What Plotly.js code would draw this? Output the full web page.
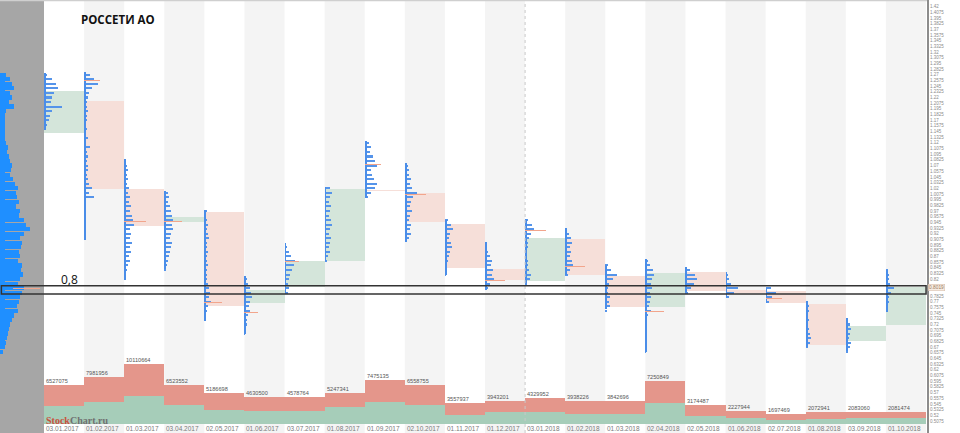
<!DOCTYPE html>
<html>
<head>
<meta charset="utf-8">
<script src="https://cdn.plot.ly/plotly-3.0.1.min.js"></script>
<style>
html,body{margin:0;padding:0;background:#fff;}
#chart{width:960px;height:433px;}
</style>
</head>
<body>
<div id="chart"></div>
<script>
// ---------- DATA ----------
const months = ['03.01.2017','01.02.2017','01.03.2017','03.04.2017','02.05.2017','01.06.2017','03.07.2017','01.08.2017','01.09.2017','02.10.2017','01.11.2017','01.12.2017','03.01.2018','01.02.2018','01.03.2018','02.04.2018','02.05.2018','01.06.2018','02.07.2018','01.08.2018','03.09.2018','01.10.2018'];
const opens  = [1.1424,1.2122,1.0184,0.9450,0.9684,0.7666,0.8026,0.8605,1.0170,1.0090,0.9407,0.8422,0.8164,0.9076,0.8268,0.7578,0.8350,0.7959,0.7944,0.7651,0.6836,0.7188];
const closes = [1.2343,1.0177,0.9376,0.9574,0.7614,0.7960,0.8598,1.0177,1.0145,0.9450,0.8438,0.8180,0.9110,0.8283,0.7578,0.8327,0.7944,0.7887,0.7666,0.6748,0.7166,0.8019];
const volumes = [6527075,7981956,10110664,6523552,5186698,4630500,4578764,5247341,7475135,6558755,3557937,3943201,4329952,3938226,3842696,7250849,3174487,2227944,1697469,2072941,2083060,2081474];
const volumesPart = [3080000,3660000,4770000,3250000,2310000,2190000,2240000,2810000,3660000,3150000,1570000,1970000,2070000,1690000,1690000,3540000,1400000,1060000,670000,900000,1060000,1010000];

// monthly volume profiles: price of the first (highest) bin, then widths (px) every 0.01 downward
const profileTops = [1.27,1.27,1.08,1.01,0.97,0.82,0.89,1.02,1.12,1.07,0.95,0.90,0.95,0.93,0.85,0.86,0.84,0.83,0.80,0.77,0.73,0.84];
const profileHighs = [1.2739,1.2755,1.0838,1.0147,0.9720,0.8270,0.8990,1.0220,1.1248,1.0750,0.9500,0.9024,0.9516,0.9320,0.8510,0.8636,0.8470,0.8360,0.8000,0.7724,0.7336,0.8400];
const profileLows  = [1.1484,0.9060,0.8180,0.8415,0.7270,0.6980,0.7890,0.8600,0.9980,0.9024,0.8290,0.7960,0.8107,0.8280,0.7534,0.6600,0.7922,0.7800,0.7670,0.6697,0.6622,0.7480];
const pJan17 = [3,8,12,14,10,8,7,18,8,6,5,3,2];
const pFeb17 = [6,10,14,8,5,4,3,3,4,3,3,2,3,2,4,2,6,3,4,3,4,4,3,4,5,8,5,10,2,2,1,2,1,1,2,1,1];
const pMar17 = [2,3,4,3,4,3,5,4,6,5,7,6,8,9,10,6,7,6,8,6,7,5,6,4,3,2,1];
const pApr17 = [4,5,4,6,7,8,9,8,9,7,6,8,7,6,5,4,3,2];
const pMay17 = [3,2,3,4,3,4,5,3,3,4,3,3,4,3,3,3,4,5,6,5,7,4,3,2,1];
const pJun17 = [3,4,6,7,8,6,5,6,4,3,3,2,1];
const pJul17 = [2,4,6,10,9,7,5,4,3,4,3];
const pAug17 = [5,7,5,4,6,5,4,6,7,5,4,6,5,4,5,3,2];
const pSep17 = [4,6,5,8,10,12,6,7,9,12,10,6,3];
const pOct17 = [3,4,4,6,5,7,12,8,6,5,7,5,4,6,5,6,4];
const pNov17 = [3,6,8,5,4,6,7,5,4,3,2,2,1];
const pDec17 = [2,2,3,5,7,6,8,7,9,5,3];
const pJan18 = [3,7,9,6,4,3,3,2,2,3,3,4,6,5,2];
const pFeb18 = [2,4,6,7,5,6,5,7,8,5,3];
const pMar18 = [3,6,12,8,4,3,3,5,4,5,2];
const pApr18 = [3,5,8,9,7,6,7,5,6,5,4,6,3,2,1,1,1,1,0,1,1];
const pMay18 = [5,10,12,9,6,3];
const pJun18 = [2,3,5,12,8,3];
const pJul18 = [5,10,6,3];
const pAug18 = [2,3,3,2,3,2,3,4,5,4,2];
const pSep18 = [2,4,5,4,3,5,4,2];
const pOct18 = [2,3,3,4,8,5,3,3,2,1];
const profiles = [pJan17,pFeb17,pMar17,pApr17,pMay17,pJun17,pJul17,pAug17,pSep17,pOct17,pNov17,pDec17,pJan18,pFeb18,pMar18,pApr18,pMay18,pJun18,pJul18,pAug18,pSep18,pOct18];

// point of control per month (price, length px); null = not shown
const pocPrices  = [null,1.257,0.946,0.946,0.7695,0.7475,0.858,null,1.0728,1.0074,null,0.8173,0.928,0.848,null,0.7481,null,null,0.7776,null,null,null];
const pocLengths = [null,16,22,18,18,14,14,null,16,21,null,20,21,20,null,19,null,null,16,null,null,null];

// whole-period profile (left panel), bins every 0.01 from the top
const totalTop = 1.27;
const totalProfile = [6,10,12,14,10,12,9,14,6,4,3,3,4,3,5,6,8,7,9,10,12,11,10,13,15,18,16,17,19,16,20,19,24,26,30,24,20,22,21,19,20,18,22,21,23,20,18,24,22,20,19,17,18,14,12,10,9,8,7,6,5,3];
const totalPocPrice = 0.80;

const lastPrice = 0.8019;
const levelLabel = '0,8';
const levelLow = 0.7871, levelHigh = 0.8054;

// ---------- LAYOUT CONSTANTS ----------
const W = 960, H = 433, PLOT_W = 927;
const COL = 40.09;              // px per month column
const LEFT_PX = 44;             // width of left panel
const xLeft = -LEFT_PX / COL;
const xRight = (PLOT_W - LEFT_PX) / COL;
const BIN = 0.01;
const Y_RANGE = [0.4810, 1.4347];
const VOL_RANGE = [-1516600, 71448700];

const n = months.length;
const idx = months.map((_, i) => i);

// price ticks (every 0.0125); the two hidden behind the last-price label are left out
const tickVals = [];
for (let k = 0; k <= 74; k++) {
  const v = +(0.5075 + k * 0.0125).toFixed(4);
  if (Math.abs(v - lastPrice) > 0.009) tickVals.push(v);
}

// boxes
const boxBase = opens.map((o, i) => Math.min(o, closes[i]));
const boxLen = opens.map((o, i) => Math.max(Math.abs(closes[i] - o), 0.0015));
const boxColor = opens.map((o, i) => closes[i] >= o ? '#d4e5da' : '#f6dfd9');

// profiles
const prY = [], prX = [], prB = [];
profiles.forEach((arr, i) => arr.forEach((w, k) => {
  prY.push(+(profileTops[i] - k * BIN).toFixed(4));
  prX.push(w / COL);
  prB.push(i);
}));
const tY = [], tX = [], tB = [];
totalProfile.forEach((w, k) => {
  tY.push(+(totalTop - k * BIN).toFixed(4));
  tX.push(w / COL);
  tB.push(xLeft);
});
const pcY = [], pcX = [], pcB = [];
pocPrices.forEach((p, i) => { if (p !== null) { pcY.push(p); pcX.push(pocLengths[i] / COL); pcB.push(i); } });
pcY.push(totalPocPrice); pcX.push(27 / COL); pcB.push(xLeft + 13 / COL);

const coreW = 1.8 / COL;

const traces = [
  { type: 'bar', x: idx.map(i => i + 0.5), y: boxLen, base: boxBase, width: 1,
    marker: { color: boxColor, line: { width: 0 } }, hoverinfo: 'skip', xaxis: 'x', yaxis: 'y' },
  { type: 'bar', orientation: 'h', y: prY, x: prX, base: prB, width: 0.0045,
    marker: { color: '#5594ea', line: { width: 0 } }, hoverinfo: 'skip', xaxis: 'x', yaxis: 'y' },
  { type: 'bar', x: idx.map(i => i + coreW / 2), y: profileHighs.map((h, i) => h - profileLows[i]), base: profileLows, width: coreW,
    marker: { color: '#4a8de8', line: { width: 0 } }, hoverinfo: 'skip', xaxis: 'x', yaxis: 'y' },
  { type: 'bar', orientation: 'h', y: tY, x: tX, base: tB, width: 0.0092,
    marker: { color: '#1f8fff', line: { width: 0 } }, hoverinfo: 'skip', xaxis: 'x', yaxis: 'y' },
  { type: 'bar', x: [xLeft + 2.5 / COL], y: [1.2739 - 0.665], base: [0.665], width: 5 / COL,
    marker: { color: '#1f8fff', line: { width: 0 } }, hoverinfo: 'skip', xaxis: 'x', yaxis: 'y' },
  { type: 'bar', orientation: 'h', y: pcY, x: pcX, base: pcB, width: 0.0022,
    marker: { color: '#f2a58c', line: { width: 0 } }, hoverinfo: 'skip', xaxis: 'x', yaxis: 'y' },
  { type: 'bar', x: idx.map(i => i + 0.5), y: volumes, width: 1,
    marker: { color: '#e4968b', line: { width: 0 } }, hoverinfo: 'skip', xaxis: 'x', yaxis: 'y2' },
  { type: 'bar', x: idx.map(i => i + 0.5), y: volumesPart, width: 1,
    marker: { color: '#a6cdb9', line: { width: 0 } }, hoverinfo: 'skip', xaxis: 'x', yaxis: 'y2' }
];

// shapes
const shapes = [];
for (let i = 0; i < n; i++) {
  if (i % 2 === 1) shapes.push({ type: 'rect', layer: 'below', xref: 'x', yref: 'paper', x0: i, x1: i + 1, y0: 0, y1: 1, fillcolor: '#f4f4f4', line: { width: 0 } });
}
shapes.push({ type: 'rect', layer: 'below', xref: 'paper', yref: 'paper', x0: 0, x1: LEFT_PX / PLOT_W, y0: 0, y1: 1, fillcolor: '#a6a6a6', line: { width: 0 } });
shapes.push({ type: 'line', layer: 'above', xref: 'x', yref: 'paper', x0: 12, x1: 12, y0: 0, y1: 1, line: { color: '#c8c8c8', width: 1, dash: 'dot' } });
shapes.push({ type: 'line', layer: 'above', xref: 'paper', yref: 'paper', x0: 0, x1: 1, y0: 0.999, y1: 0.999, line: { color: '#cfcfcf', width: 1.5 } });
shapes.push({ type: 'rect', layer: 'above', xref: 'paper', yref: 'y', x0: 0.0015, x1: 0.999, y0: levelLow, y1: levelHigh, fillcolor: 'rgba(0,0,0,0)', line: { color: '#333333', width: 1.5 } });

// annotations
const annotations = [];
months.forEach((m, i) => {
  annotations.push({ xref: 'x', yref: 'paper', x: i, y: 5 / H, xanchor: 'left', yanchor: 'middle', xshift: 0, text: m, showarrow: false,
    font: { family: 'Liberation Sans, Arial, sans-serif', size: 6.5, color: '#7a7a7a' } });
  annotations.push({ xref: 'x', yref: 'y2', x: i, y: volumes[i], xanchor: 'left', yanchor: 'bottom', xshift: 0, yshift: -1, text: String(volumes[i]), showarrow: false,
    font: { family: 'Liberation Sans, Arial, sans-serif', size: 5.6, color: '#555' } });
});
annotations.push({ xref: 'paper', yref: 'paper', x: 79 / PLOT_W, y: 1 - 19 / H, xanchor: 'left', yanchor: 'middle', text: '<b>РОССЕТИ АО</b>', showarrow: false,
  font: { family: 'Open Sans, Liberation Sans, sans-serif', size: 11.5, color: '#111' } });
annotations.push({ xref: 'paper', yref: 'y', x: 59 / PLOT_W, y: 0.818, xanchor: 'left', yanchor: 'middle', text: levelLabel, showarrow: false,
  font: { family: 'Open Sans, Liberation Sans, sans-serif', size: 12, color: '#111' } });
annotations.push({ xref: 'paper', yref: 'paper', x: 44 / PLOT_W, y: 13 / H, xanchor: 'left', yanchor: 'middle', showarrow: false,
  text: '<b><span style="color:#c9533f">Stock</span><span style="color:#707070">Chart.ru</span></b>',
  font: { family: 'Liberation Serif, DejaVu Serif, serif', size: 10 } });
annotations.push({ xref: 'paper', yref: 'y', x: 1, y: lastPrice, xanchor: 'left', yanchor: 'middle', xshift: 1, text: String(lastPrice), showarrow: false,
  bgcolor: '#f7ece2', bordercolor: '#d9c2ad', borderwidth: 0.6, borderpad: 0.5,
  font: { family: 'Liberation Sans, Arial, sans-serif', size: 4.8, color: '#9a7a60' } });

const layout = {
  width: W, height: H,
  margin: { l: 0, r: W - PLOT_W, t: 0, b: 0, pad: 0 },
  paper_bgcolor: '#ffffff', plot_bgcolor: '#ffffff',
  showlegend: false, barmode: 'overlay', bargap: 0,
  xaxis: { range: [xLeft, xRight], visible: false, showgrid: false, zeroline: false, fixedrange: true },
  yaxis: { range: Y_RANGE, side: 'right', tickmode: 'array', tickvals: tickVals, ticktext: tickVals.map(v => String(v)),
    showgrid: false, zeroline: false,
    showline: true, linecolor: '#8c8c8c', linewidth: 2, ticks: '', automargin: false,
    tickfont: { family: 'Liberation Sans, Arial, sans-serif', size: 4.5, color: '#8a8a8a' } },
  yaxis2: { range: VOL_RANGE, overlaying: 'y', visible: false, showgrid: false, zeroline: false, fixedrange: true },
  shapes: shapes,
  annotations: annotations
};

Plotly.newPlot('chart', traces, layout, { staticPlot: true, displayModeBar: false });
</script>
</body>
</html>
